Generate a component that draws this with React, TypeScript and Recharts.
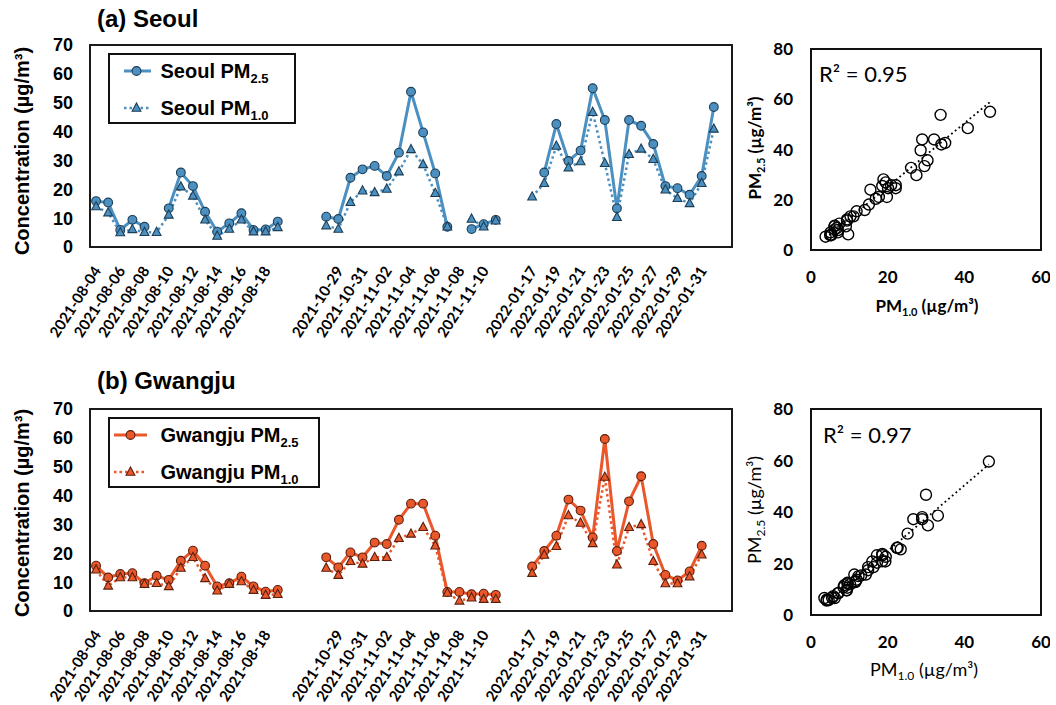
import React from 'react';
import {
  LineChart, Line, XAxis, YAxis, ReferenceArea, Legend,
  ScatterChart, Scatter, ReferenceLine,
} from 'recharts';

// ---- categories (one per day slot; "" = empty slot between campaigns) ----
const categories: string[] = [
  '2021-08-04', '2021-08-05', '2021-08-06', '2021-08-07', '2021-08-08', '2021-08-09', '2021-08-10', '2021-08-11',
  '2021-08-12', '2021-08-13', '2021-08-14', '2021-08-15', '2021-08-16', '2021-08-17', '2021-08-18', '2021-08-19',
  '', '', '',
  '2021-10-28', '2021-10-29', '2021-10-30', '2021-10-31', '2021-11-01', '2021-11-02', '2021-11-03', '2021-11-04',
  '2021-11-05', '2021-11-06', '2021-11-07', '2021-11-08', '2021-11-09', '2021-11-10', '2021-11-11',
  '', '',
  '2022-01-17', '2022-01-18', '2022-01-19', '2022-01-20', '2022-01-21', '2022-01-22', '2022-01-23', '2022-01-24',
  '2022-01-25', '2022-01-26', '2022-01-27', '2022-01-28', '2022-01-29', '2022-01-30', '2022-01-31', '2022-02-01',
  '',
];

// ---- series values ----
const seoulPM25: (number | null)[] = [
  15.9, 15.4, 5.9, 9.4, 7.0, null, 13.4, 25.8, 21.1, 12.2, 5.3, 8.2, 11.7, 5.9, 6.1, 8.8,
  null, null, null,
  10.5, 9.7, 24.0, 26.9, 28.1, 24.6, 32.7, 53.8, 39.7, 25.5, 7.0, null, 6.2, 7.9, 9.4,
  null, null,
  null, 25.8, 42.6, 29.8, 33.4, 55.0, 44.0, 13.4, 44.0, 42.0, 35.7, 21.1, 20.4, 18.1, 24.6, 48.5,
  null,
];
const seoulPM10: (number | null)[] = [
  14.0, 11.9, 5.0, 6.1, 5.1, 5.1, 11.1, 20.9, 17.7, 9.4, 3.8, 6.2, 9.4, 5.3, 5.3, 6.8,
  null, null, null,
  7.4, 6.2, 15.5, 19.5, 18.9, 20.1, 26.1, 33.8, 28.6, 18.6, 7.0, null, 9.7, 7.0, 9.1,
  null, null,
  17.4, 22.1, 35.0, 27.5, 29.6, 46.7, 29.0, 10.3, 32.1, 34.0, 30.4, 19.8, 16.9, 15.1, 22.1, 40.9,
  null,
];
const gwangjuPM25: (number | null)[] = [
  15.7, 11.6, 12.8, 13.1, 9.6, 12.2, 10.8, 17.4, 20.9, 15.7, 8.5, 9.6, 11.9, 8.5, 6.7, 7.3,
  null, null, null,
  18.6, 15.1, 20.3, 18.6, 23.7, 23.2, 31.6, 37.2, 37.2, 26.1, 6.6, 6.6, 5.8, 6.0, 5.6,
  null, null,
  15.4, 20.8, 26.1, 38.6, 34.8, 25.5, 59.6, 20.8, 38.0, 46.7, 23.2, 12.5, 10.6, 13.7, 22.6,
  null, null,
];
const gwangjuPM10: (number | null)[] = [
  14.3, 8.7, 11.6, 11.6, 9.3, 9.6, 8.5, 14.9, 18.6, 11.3, 7.0, 9.3, 10.2, 7.2, 5.5, 5.8,
  null, null, null,
  14.9, 12.4, 17.2, 16.3, 18.6, 18.6, 25.2, 26.7, 29.0, 22.6, 6.2, 3.5, 4.6, 4.1, 4.1,
  null, null,
  13.1, 19.4, 22.4, 33.1, 30.5, 23.4, 46.4, 16.0, 29.0, 30.0, 17.2, 9.5, 9.5, 11.9, 19.5,
  null, null,
];

// ---- tick labels ----
const concTicks = [0, 10, 20, 30, 40, 50, 60, 70];
const scatterXTicks = [0, 20, 40, 60];
const scatterYTicks = [0, 20, 40, 60, 80];
const dateTicks = categories.map((c, i) => (i % 2 === 0 && c ? i : -1)).filter((i) => i >= 0);

const SEOUL = '#4b90c0';
const SEOUL_EDGE = '#1d3d55';
const GWANGJU = '#e9572b';
const GWANGJU_EDGE = '#5a1f0c';
const ARIAL = '"Liberation Sans", Arial, sans-serif';
const CAL = 'Lato, "Open Sans", sans-serif';

const buildRows = (a: (number | null)[], b: (number | null)[]) =>
  categories.map((c, i) => ({ i, date: c, pm25: a[i], pm10: b[i] }));

const buildPairs = (a: (number | null)[], b: (number | null)[]) =>
  categories
    .map((_, i) => ({ x: b[i], y: a[i] }))
    .filter((p) => p.x != null && p.y != null) as { x: number; y: number }[];

const linreg = (pts: { x: number; y: number }[]) => {
  const n = pts.length;
  const mx = pts.reduce((s, p) => s + p.x, 0) / n;
  const my = pts.reduce((s, p) => s + p.y, 0) / n;
  let sxy = 0, sxx = 0;
  pts.forEach((p) => { sxy += (p.x - mx) * (p.y - my); sxx += (p.x - mx) ** 2; });
  const b = sxy / sxx;
  const a = my - b * mx;
  const x0 = Math.min(...pts.map((p) => p.x));
  const x1 = Math.max(...pts.map((p) => p.x));
  return [{ x: x0, y: a + b * x0 }, { x: x1, y: a + b * x1 }];
};

const circleDot = (fill: string, edge: string) => (props: any) => {
  const { cx, cy, value, index } = props;
  if (value == null || cy == null || isNaN(cy)) return <g key={`c${index}`} />;
  return <circle key={`c${index}`} cx={cx} cy={cy} r={4.4} fill={fill} stroke={edge} strokeWidth={1.1} />;
};
const triDot = (fill: string, edge: string) => (props: any) => {
  const { cx, cy, value, index } = props;
  if (value == null || cy == null || isNaN(cy)) return <g key={`t${index}`} />;
  return (
    <path key={`t${index}`} d={`M${cx},${cy - 5} L${cx + 4.4},${cy + 3.2} L${cx - 4.4},${cy + 3.2} Z`}
      fill={fill} stroke={edge} strokeWidth={1.1} />
  );
};

const DateTick = (props: any) => {
  const { x, y, payload } = props;
  const ax = x + 5.7;
  const ay = y + 23.8;
  return (
    <text x={ax} y={ay} transform={`rotate(-57 ${ax} ${ay})`} textAnchor="end"
      fontFamily={CAL} fontWeight={700} fontSize={15} fill="#000">
      {categories[payload.value]}
    </text>
  );
};

const makeLegend = (name: string, color: string, edge: string, w: number, x0: number, x1: number, xm: number) => () => (
  <svg width={w + 2} height={72} style={{ display: 'block' }}>
    <rect x={1} y={1} width={w - 1} height={69} fill="#fff" stroke="#111" strokeWidth={2} />
    <line x1={x0} y1={18} x2={x1} y2={18} stroke={color} strokeWidth={3} />
    <circle cx={xm} cy={18} r={4.4} fill={color} stroke={edge} strokeWidth={1.1} />
    <line x1={x0} y1={55} x2={x1} y2={55} stroke={color} strokeWidth={2.5} strokeDasharray="2.5 3" />
    <path d={`M${xm},${50} L${xm + 4.4},${58.2} L${xm - 4.4},${58.2} Z`} fill={color} stroke={edge} strokeWidth={1.1} />
    <text x={52.5} y={25} fontFamily={ARIAL} fontWeight={700} fontSize={20} fill="#000">
      {name} PM<tspan fontSize={13} dy={5}>2.5</tspan>
    </text>
    <text x={52.5} y={62} fontFamily={ARIAL} fontWeight={700} fontSize={20} fill="#000">
      {name} PM<tspan fontSize={13} dy={5}>1.0</tspan>
    </text>
  </svg>
);

const TimeChart = ({ rows, color, edge, legend, legendW }: any) => (
  <LineChart width={740} height={347} data={rows} margin={{ top: 45, right: 8, bottom: 0, left: 0 }}>
    <XAxis type="number" dataKey="i" domain={[-0.5, 52.5]} ticks={dateTicks} interval={0}
      tick={DateTick} tickLine={false} axisLine={false} height={100} tickSize={0} tickMargin={0} />
    <YAxis type="number" domain={[0, 70]} ticks={concTicks} interval={0} width={90}
      tick={{ fontFamily: ARIAL, fontWeight: 700, fontSize: 18, fill: '#000' }}
      tickLine={false} axisLine={false} tickSize={0} tickMargin={17} />
    <ReferenceArea x1={-0.5} x2={52.5} y1={0} y2={70} fill="none" stroke="#1a1a1a" strokeWidth={2} />
    <Line dataKey="pm25" stroke={color} strokeWidth={3} dot={circleDot(color, edge)}
      connectNulls={false} isAnimationActive={false} />
    <Line dataKey="pm10" stroke={color} strokeWidth={2.5} strokeDasharray="2.5 3" dot={triDot(color, edge)}
      connectNulls={false} isAnimationActive={false} />
    <Legend layout="vertical" align="center" verticalAlign="middle" content={legend}
      wrapperStyle={{ left: 108, top: 53, width: legendW + 2, height: 72 }} />
  </LineChart>
);

const ScatterPanel = ({ pts, height, top }: any) => {
  const seg = linreg(pts);
  return (
    <ScatterChart width={310} height={height} margin={{ top, right: 9, bottom: 0, left: 0 }}>
      <XAxis type="number" dataKey="x" domain={[0, 60]} ticks={scatterXTicks} interval={0}
        tick={{ fontFamily: CAL, fontWeight: 700, fontSize: 17, fill: '#000' }}
        tickLine={false} axisLine={false} tickSize={0} tickMargin={21} height={40} />
      <YAxis type="number" dataKey="y" domain={[0, 80]} ticks={scatterYTicks} interval={0} width={71}
        tick={{ fontFamily: CAL, fontWeight: 700, fontSize: 17, fill: '#000' }}
        tickLine={false} axisLine={false} tickSize={0} tickMargin={18} />
      <ReferenceArea x1={0} x2={60} y1={0} y2={80} fill="none" stroke="#111" strokeWidth={2} />
      <ReferenceLine segment={seg} stroke="#000" strokeWidth={1.8} strokeDasharray="1.8 3" />
      <Scatter data={pts} isAnimationActive={false}
        shape={(p: any) => <circle cx={p.cx} cy={p.cy} r={5.5} fill="none" stroke="#000" strokeWidth={1.4} />} />
    </ScatterChart>
  );
};

export default function App() {
  const seoulRows = buildRows(seoulPM25, seoulPM10);
  const gwRows = buildRows(gwangjuPM25, gwangjuPM10);
  const seoulPts = buildPairs(seoulPM25, seoulPM10);
  const gwPts = buildPairs(gwangjuPM25, gwangjuPM10);
  return (
    <div style={{ position: 'absolute', left: 0, top: 0, width: 1056, height: 705, background: '#fff', overflow: 'hidden' }}>
      <div style={{ position: 'absolute', left: 0, top: 0 }}>
        <TimeChart rows={seoulRows} color={SEOUL} edge={SEOUL_EDGE} legendW={187}
          legend={makeLegend('Seoul', SEOUL, SEOUL_EDGE, 187, 16, 43, 28.5)} />
      </div>
      <div style={{ position: 'absolute', left: 0, top: 364 }}>
        <TimeChart rows={gwRows} color={GWANGJU} edge={GWANGJU_EDGE} legendW={211}
          legend={makeLegend('Gwangju', GWANGJU, GWANGJU_EDGE, 211, 6, 39, 22.5)} />
      </div>
      <div style={{ position: 'absolute', left: 740, top: 0 }}>
        <ScatterPanel pts={seoulPts} height={290} top={49} />
      </div>
      <div style={{ position: 'absolute', left: 740, top: 360 }}>
        <ScatterPanel pts={gwPts} height={295} top={49} />
      </div>
      <svg width={1056} height={705} style={{ position: 'absolute', left: 0, top: 0, pointerEvents: 'none' }}>
        <text x={97} y={27} fontFamily={ARIAL} fontWeight={700} fontSize={24} fill="#000">(a) Seoul</text>
        <text x={97} y={389} fontFamily={ARIAL} fontWeight={700} fontSize={24} fill="#000">(b) Gwangju</text>
        <text transform="translate(29,151) rotate(-90)" textAnchor="middle" fontFamily={ARIAL} fontWeight={700} fontSize={20} fill="#000">
          Concentration (µg/m³)
        </text>
        <text transform="translate(29,513) rotate(-90)" textAnchor="middle" fontFamily={ARIAL} fontWeight={700} fontSize={20} fill="#000">
          Concentration (µg/m³)
        </text>
        <text x={819} y={82} fontFamily={CAL} fontSize={22} fill="#000">R² = 0.95</text>
        <text x={823} y={443} fontFamily={CAL} fontSize={22} fill="#000">R² = 0.97</text>
        <text transform="translate(761,148) rotate(-90)" textAnchor="middle" fontFamily={CAL} fontWeight={700} fontSize={17} fill="#000">
          PM<tspan fontSize={11} dy={4}>2.5</tspan><tspan dy={-4}> (µg/m³)</tspan>
        </text>
        <text x={927} y={312} textAnchor="middle" fontFamily={CAL} fontWeight={700} fontSize={17} fill="#000">
          PM<tspan fontSize={11} dy={4}>1.0</tspan><tspan dy={-4}> (µg/m³)</tspan>
        </text>
        <text transform="translate(761,510) rotate(-90)" textAnchor="middle" fontFamily={CAL} fontSize={18} fill="#000">
          PM<tspan fontSize={12} dy={4}>2.5</tspan><tspan dy={-4}> (µg/m³)</tspan>
        </text>
        <text x={924} y={676} textAnchor="middle" fontFamily={CAL} fontSize={18} fill="#000">
          PM<tspan fontSize={12} dy={4}>1.0</tspan><tspan dy={-4}> (µg/m³)</tspan>
        </text>
      </svg>
    </div>
  );
}
